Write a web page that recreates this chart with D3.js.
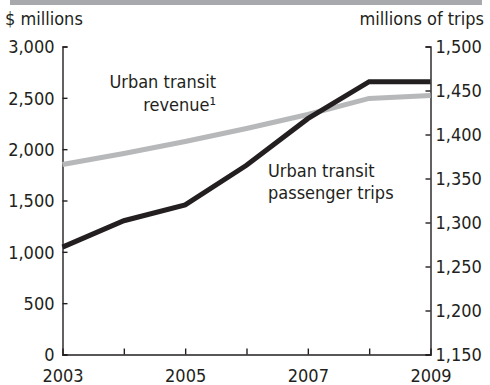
<!DOCTYPE html>
<html>
<head>
<meta charset="utf-8">
<script src="https://cdn.jsdelivr.net/npm/d3@7"></script>
<style>
  body { margin: 0; background: #fff; }
  text { font-family: "DejaVu Sans Condensed", "DejaVu Sans", sans-serif; font-stretch: condensed; fill: #231f20; }
</style>
</head>
<body>
<svg id="chart" width="490" height="385"></svg>
<script>
// data
var years = [2003, 2004, 2005, 2006, 2007, 2008, 2009];
var revenue = [1851, 1958, 2075, 2201, 2338, 2494, 2523];   // $ millions, left axis
var trips = [1272, 1302, 1320, 1365, 1418, 1460, 1460];     // millions of trips, right axis
var leftTicks = [0, 500, 1000, 1500, 2000, 2500, 3000];
var rightTicks = [1150, 1200, 1250, 1300, 1350, 1400, 1450, 1500];
var xTicks = [2003, 2004, 2005, 2006, 2007, 2008, 2009];
var xLabels = [2003, 2005, 2007, 2009];

var svg = d3.select("#chart");
var margin = {left: 62.5, right: 430.5, top: 46.5, bottom: 354.5};
var fontSize = 18;

// grey bar along the top
svg.append("rect")
    .attr("x", 10).attr("y", 0)
    .attr("width", 472).attr("height", 5)
    .style("fill", "#a7a9ac");

var x = d3.scaleLinear().domain([2003, 2009]).range([margin.left, margin.right]);
var yL = d3.scaleLinear().domain([0, 3000]).range([margin.bottom, margin.top]);
var yR = d3.scaleLinear().domain([1150, 1500]).range([margin.bottom, margin.top]);

var fmt = d3.format(",");

// left axis, ticks point inward
var leftAxis = svg.append("g")
    .attr("transform", "translate(" + margin.left + ",0)")
    .call(d3.axisRight(yL).tickValues(leftTicks).tickSize(5).tickFormat(""));
leftAxis.selectAll(".tick")
    .append("text")
    .attr("x", -8).attr("dy", "0.36em")
    .attr("text-anchor", "end")
    .style("font-size", fontSize + "px")
    .text(function(d) { return fmt(d); });

// right axis, ticks point inward
var rightAxis = svg.append("g")
    .attr("transform", "translate(" + margin.right + ",0)")
    .call(d3.axisLeft(yR).tickValues(rightTicks).tickSize(5).tickFormat(""));
rightAxis.selectAll(".tick")
    .append("text")
    .attr("x", 5).attr("dy", "0.36em")
    .attr("text-anchor", "start")
    .style("font-size", fontSize + "px")
    .text(function(d) { return fmt(d); });

// bottom axis
var bottomAxis = svg.append("g")
    .attr("transform", "translate(0," + margin.bottom + ")")
    .call(d3.axisTop(x).tickValues(xTicks).tickSize(6).tickFormat(""));
bottomAxis.selectAll(".tick")
    .filter(function(d) { return xLabels.indexOf(d) >= 0; })
    .append("text")
    .attr("y", 27)
    .attr("text-anchor", "middle")
    .style("font-size", fontSize + "px")
    .text(function(d) { return d; });
// the end ticks would sit on the side axes
bottomAxis.selectAll(".tick line").filter(function(d) { return d == 2003 || d == 2009; }).remove();

svg.selectAll(".domain, .tick line")
    .style("stroke", "#231f20")
    .style("stroke-width", 1.4);

// axis titles
svg.append("text")
    .attr("x", 5).attr("y", 25)
    .style("font-size", fontSize + "px")
    .text("$ millions");
svg.append("text")
    .attr("x", 484).attr("y", 25)
    .attr("text-anchor", "end")
    .style("font-size", fontSize + "px")
    .text("millions of trips");

// lines
var revLine = d3.line()
    .x(function(d, i) { return x(years[i]); })
    .y(function(d) { return yL(d); });
var tripLine = d3.line()
    .x(function(d, i) { return x(years[i]); })
    .y(function(d) { return yR(d); });

svg.append("path")
    .datum(revenue)
    .attr("d", revLine)
    .style("fill", "none")
    .style("stroke", "#b7b8ba")
    .style("stroke-width", 5);

svg.append("path")
    .datum(trips)
    .attr("d", tripLine)
    .style("fill", "none")
    .style("stroke", "#231f20")
    .style("stroke-width", 5);

// series labels
var revLabel = svg.append("text")
    .attr("text-anchor", "end")
    .style("font-size", fontSize + "px");
revLabel.append("tspan").attr("x", 216).attr("y", 88).text("Urban transit");
revLabel.append("tspan").attr("x", 216).attr("y", 111).text("revenue¹");

var tripLabel = svg.append("text")
    .style("font-size", fontSize + "px");
tripLabel.append("tspan").attr("x", 268).attr("y", 177).text("Urban transit");
tripLabel.append("tspan").attr("x", 268).attr("y", 199).text("passenger trips");
</script>
</body>
</html>
